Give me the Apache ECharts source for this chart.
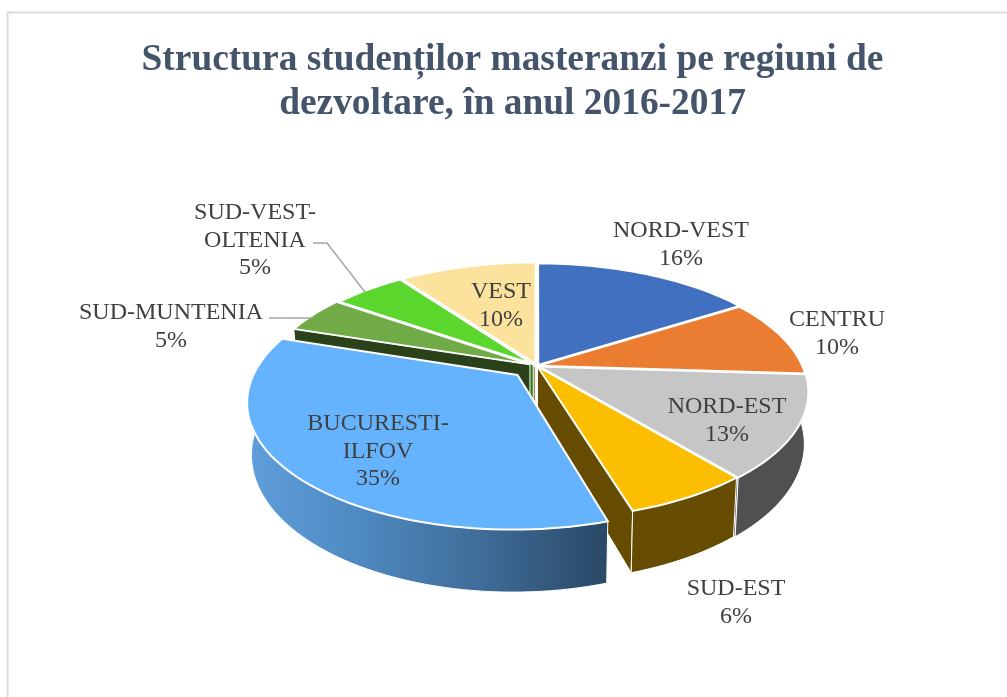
<!DOCTYPE html>
<html>
<head>
<meta charset="utf-8">
<script src="https://cdn.jsdelivr.net/npm/echarts@6/dist/echarts.min.js"></script>
<style>html,body{margin:0;padding:0;background:#fff}#c{width:1007px;height:697px}</style>
</head>
<body>
<div id="c"></div>
<script>
// ---- data ----
const categories = ['NORD-VEST','CENTRU','NORD-EST','SUD-EST','BUCURESTI-ILFOV','SUD-MUNTENIA','SUD-VEST-OLTENIA','VEST'];
const shares = [16, 10, 13, 6.3, 34.7, 4.7, 5.3, 10];
const labelLines = [['NORD-VEST'],['CENTRU'],['NORD-EST'],['SUD-EST'],['BUCURESTI-','ILFOV'],['SUD-MUNTENIA'],['SUD-VEST-','OLTENIA'],['VEST']];
const titleText = 'Structura studenților masteranzi pe regiuni de\ndezvoltare, în anul 2016-2017';

// ---- styling / layout ----
const topColors  = ['#4270C1','#EB7D32','#C6C6C6','#FBBE00','#66B3FD','#70AB47','#5AD62C','#FBE29D'];
const wallColors = ['#2B4478','#8E4B1E','#505050','#664C00',null,'#2A4119','#2F7A14','#8F7F50'];
const exploded   = [0.01, 0.005, 0.008, 0.004, 0.104, 0.03, 0.02, 0.02];
const paintOrder = [7,0,6,1,5,2,3,4];
const labelAnchor = [[681,231],[837,320],[727,407],[736,589],[378,424],[171,313],[255,213],[501,292]];
const leaders = {5:[[269,318],[313,318]], 6:[[313,243],[327,243],[365,292]]};
const CX=537, CY=366, RX=264, RY=122, PERSP=0.2, DEPTH=50, SHRINK=0.015;

// u,v are positions on the unit disc, pv is the depth used for the perspective scale
function project(u,v,pv,z){
  const s=1/(1+PERSP*pv);
  return [CX+RX*u*s*(1-SHRINK*z), CY-RY*v*s+DEPTH*z*s];
}
const total=shares.reduce((a,b)=>a+b,0);

function renderItem(params, api){
  const i=params.dataIndex;
  const start=shares.slice(0,i).reduce((a,b)=>a+b,0);
  const a0=start/total*2*Math.PI, a1=(start+api.value(0))/total*2*Math.PI;
  const mid=(a0+a1)/2, ou=exploded[i]*Math.sin(mid), ov=exploded[i]*Math.cos(mid);
  const arc=[]; const n=Math.max(4,Math.ceil((a1-a0)/0.03));
  for(let k=0;k<=n;k++){const t=a0+(a1-a0)*k/n; arc.push({u:ou+Math.sin(t),v:ov+Math.cos(t),pv:Math.cos(t)});}
  const tip={u:ou,v:ov,pv:0};
  const P=(p,z)=>project(p.u,p.v,p.pv,z);
  const rank=paintOrder.indexOf(i)*10+1;
  const wall=wallColors[i]||new echarts.graphic.LinearGradient(0,0,1,0,[
    {offset:0,color:'#5F9FDB'},{offset:0.3,color:'#4F8AC2'},{offset:0.65,color:'#3F6C98'},{offset:1,color:'#294865'}]);
  const edge={stroke:'#ffffff',lineWidth:1};
  const children=[];
  const quad=(p,q)=>[P(p,0),P(q,0),P(q,1),P(p,1)];
  // only the cut faces that turn towards the viewer
  if(a0>=Math.PI-1e-6) children.push({type:'polygon',z2:rank,shape:{points:quad(tip,arc[0])},style:Object.assign({fill:wall},edge)});
  if(a1<=Math.PI+1e-6) children.push({type:'polygon',z2:rank,shape:{points:quad(tip,arc[n])},style:Object.assign({fill:wall},edge)});
  // outer wall, front half only
  const front=arc.filter(p=>p.pv<0.08);
  if(front.length>1){
    const wallPts=front.map(p=>P(p,0)).concat(front.slice().reverse().map(p=>P(p,1)));
    children.push({type:'polygon',z2:rank+1,shape:{points:wallPts},style:Object.assign({fill:wall},edge)});
  }
  const topPts=[P(tip,0)].concat(arc.map(p=>P(p,0)));
  children.push({type:'polygon',z2:rank+2,shape:{points:topPts},style:{fill:topColors[i],stroke:'#ffffff',lineWidth:2,lineJoin:'miter'}});
  // label
  const lines=labelLines[i].concat([Math.round(api.value(0))+'%']);
  lines.forEach((t,k)=>children.push({type:'text',z2:200,style:{
    text:t,x:labelAnchor[i][0],y:labelAnchor[i][1]+k*27.3,align:'center',verticalAlign:'middle',
    fill:'#404040',font:'24px "Liberation Serif"'}}));
  if(leaders[i]) children.push({type:'polyline',z2:190,shape:{points:leaders[i]},style:{fill:'none',stroke:'#A6A6A6',lineWidth:1.5}});
  return {type:'group',children};
}

const chart=echarts.init(document.getElementById('c'),null,{renderer:'canvas'});
chart.setOption({
  animation:false,
  backgroundColor:'#ffffff',
  title:{text:titleText,left:507.5,top:33,textAlign:'center',
    textStyle:{fontFamily:'Liberation Serif',fontWeight:'bold',fontSize:37.4,lineHeight:44,color:'#44546A'}},
  graphic:[{type:'polyline',silent:true,shape:{points:[[7.5,697],[7.5,12.5],[1007,12.5]]},
    style:{fill:'none',stroke:'#DCDCDC',lineWidth:2}}],
  series:[{type:'custom',coordinateSystem:'none',renderItem,silent:true,clip:false,
    data:categories.map((name,i)=>({name,value:[shares[i]]}))}]
});
</script>
</body>
</html>
